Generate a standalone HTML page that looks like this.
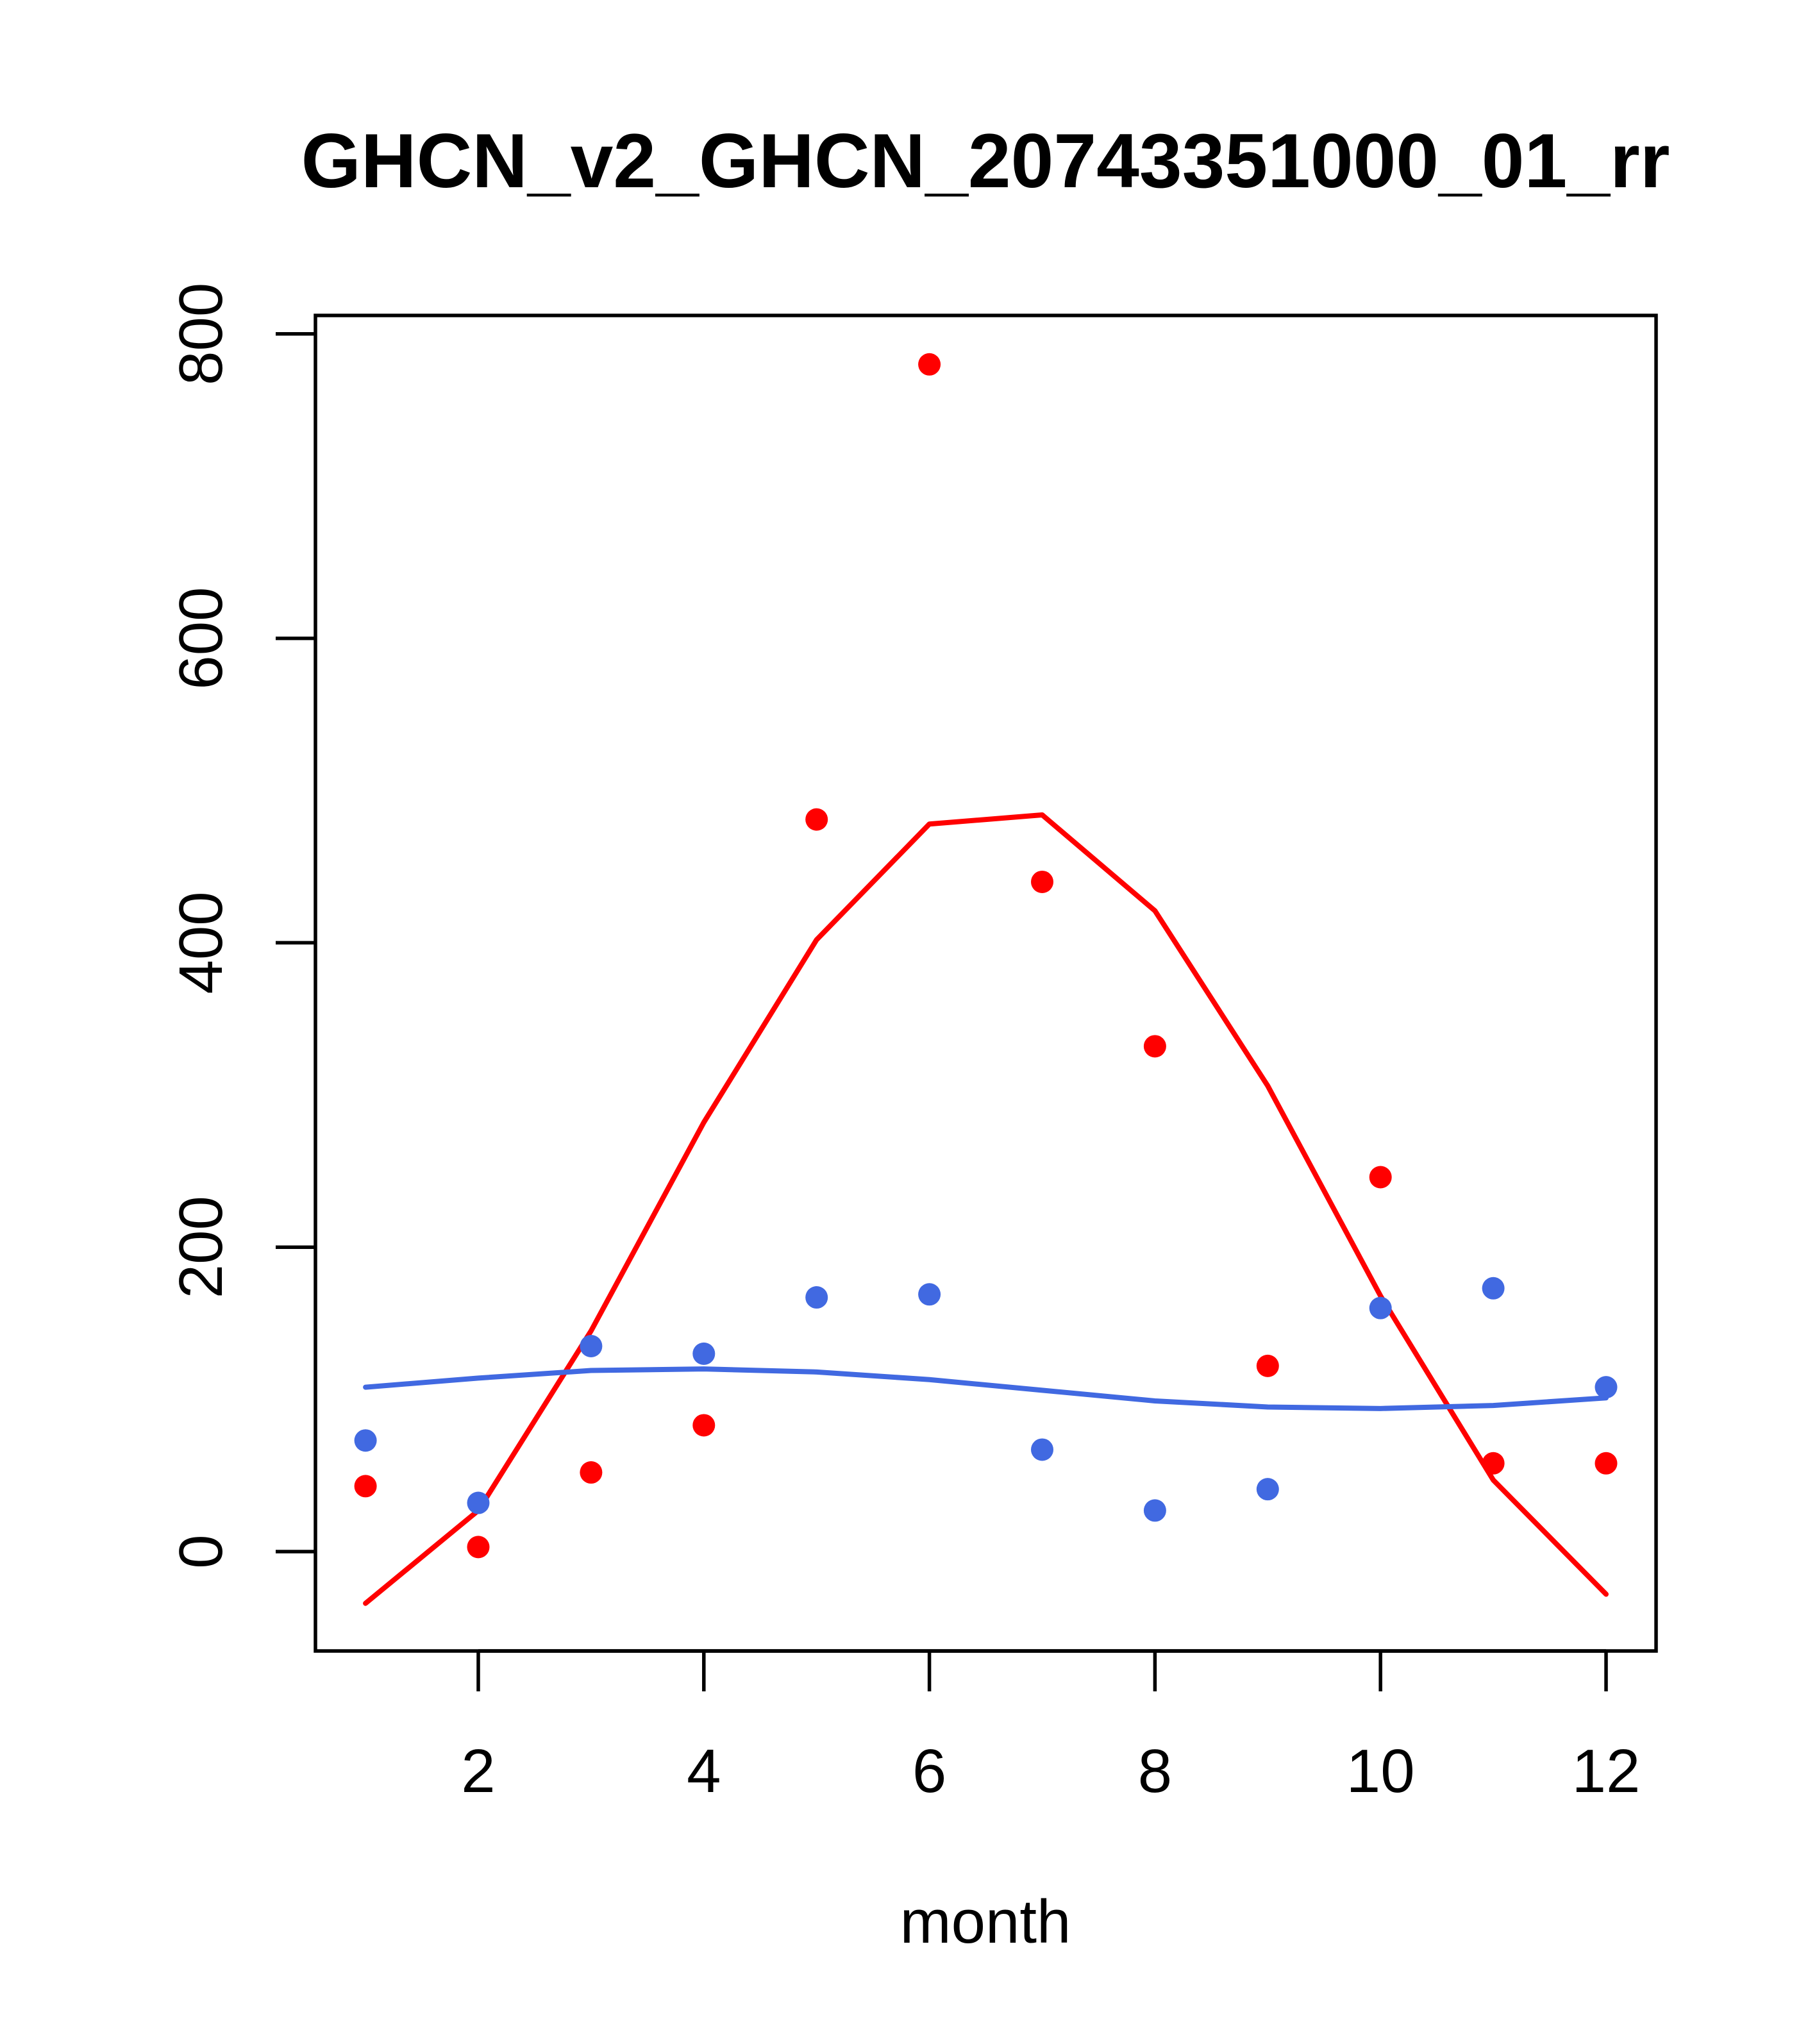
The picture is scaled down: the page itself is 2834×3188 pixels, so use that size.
<!DOCTYPE html>
<html><head><meta charset="utf-8"><style>
html,body{margin:0;padding:0;background:#fff;}
svg{display:block;font-family:"Liberation Sans",Arial,sans-serif;}
</style></head><body>
<svg id="chart" width="2834" height="3188" viewBox="0 0 2834 3188">
<text x="1537" y="292" text-anchor="middle" font-size="120" font-weight="bold">GHCN_v2_GHCN_20743351000_01_rr</text>
<rect x="492" y="492" width="2091" height="2083" fill="none" stroke="#000" stroke-width="5.5"/>
<g id="xaxis"></g>
<g id="yaxis"></g>
<text x="1537" y="3030" text-anchor="middle" font-size="96">month</text>
<g id="marks"></g>
</svg>
<script>
const months=[1,2,3,4,5,6,7,8,9,10,11,12];
const redPoints=[43,3,52,83,481,780,440,332,122,246,58,58];
const redLine=[-34,27,145,282,402,478,484,421,306,168,47,-28];
const bluePoints=[73,32,135,130,167,169,67,27,41,160,173,108];
const blueLine=[108,114,119,120,118,113,106,99,95,94,96,101];
const xTicks=[2,4,6,8,10,12];
const yTicks=[0,200,400,600,800];
const NS="http://www.w3.org/2000/svg";
function X(m){return 746+(m-2)*175.9;}
function Y(v){return 2420-v*2.374;}
function mk(tag,attrs,parent){const e=document.createElementNS(NS,tag);for(const k in attrs)e.setAttribute(k,attrs[k]);parent.appendChild(e);return e;}
const xa=document.getElementById('xaxis'),ya=document.getElementById('yaxis'),mg=document.getElementById('marks');
mk('line',{x1:X(2),x2:X(12),y1:2575,y2:2575,stroke:'#000','stroke-width':5.5},xa);
xTicks.forEach(t=>{
 const l=mk('line',{x1:X(t),x2:X(t),y1:2575,y2:2638,stroke:'#000','stroke-width':5.5},xa);
 
 
 const tx=mk('text',{x:X(t),y:2795,'text-anchor':'middle','font-size':96},xa);
 tx.textContent=t;
 
 
});
yTicks.forEach(t=>{
 const l=mk('line',{x1:430,x2:492,y1:Y(t),y2:Y(t),stroke:'#000','stroke-width':5.5},ya);
 
 
 const tx=mk('text',{x:0,y:0,'text-anchor':'middle','font-size':96,transform:`translate(346,${Y(t)}) rotate(-90)`},ya);
 tx.textContent=t;
 
 
});
function line(vals,color,name){
 const p=mk('polyline',{points:vals.map((v,i)=>X(months[i])+','+Y(v)).join(' '),fill:'none',stroke:color,'stroke-width':8,'stroke-linejoin':'round','stroke-linecap':'round'},mg);
 
 
}
function pts(vals,color,name){
 vals.forEach((v,i)=>{
  const c=mk('circle',{cx:X(months[i]),cy:Y(v),r:17.5,fill:color},mg);
  
  
 });
}
line(redLine,'#ff0000','red-fit-line');
line(blueLine,'#4169e1','blue-fit-line');
pts(redPoints,'#ff0000','red-point');
pts(bluePoints,'#4169e1','blue-point');
</script>
</body></html>
